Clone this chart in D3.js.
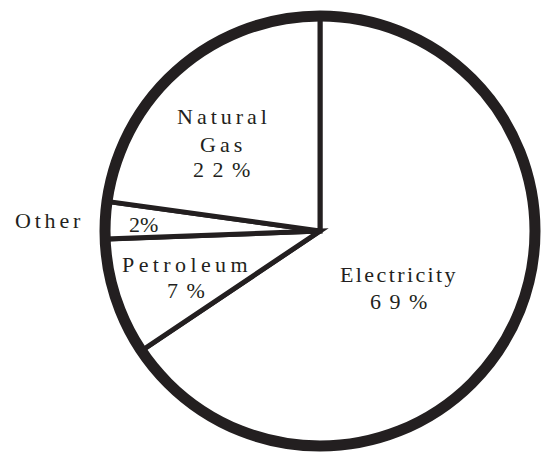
<!DOCTYPE html>
<html>
<head>
<meta charset="utf-8">
<script src="https://cdn.jsdelivr.net/npm/d3@7"></script>
<style>
  body { margin: 0; background: #fff; }
  text { font-family: "Liberation Serif", serif; fill: #231f20; }
</style>
</head>
<body>
<svg id="chart" width="543" height="453"></svg>
<script>
// ! Data (slice shares as drawn, printed labels)
var categories = ["Electricity", "Petroleum", "Other", "Natural Gas"];
var shares = [65.6, 8.8, 2.8, 22.8];
var pct_labels = ["6 9 %", "7 %", "2%", "2 2 %"];

// ! Parameters
var cx = 320, cy = 231, radius = 215;
var ink = "#231f20";

var svg = d3.select("#chart");
var g = svg.append("g").attr("transform", "translate(" + cx + "," + cy + ")");

var pie = d3.pie().sort(null).value(function(d) { return d; });
var arc = d3.arc().innerRadius(0).outerRadius(radius);

// slices
g.selectAll("path.slice")
  .data(pie(shares))
  .enter()
  .append("path")
  .attr("class", "slice")
  .attr("d", arc)
  .attr("fill", "#fff")
  .attr("stroke", ink)
  .attr("stroke-width", 5)
  .attr("stroke-linejoin", "miter");

// heavy outer ring
g.append("circle")
  .attr("r", radius)
  .attr("fill", "none")
  .attr("stroke", ink)
  .attr("stroke-width", 11);

// ! Labels - placement per category (left x, baseline)
var label_pos = {
  "Electricity": { name: [[340, 282]], pct: [370, 309], ls: 2.4 },
  "Petroleum":   { name: [[122, 272]], pct: [167, 298], ls: 4.4 },
  "Other":       { name: [[15, 228]],  pct: [129, 232], ls: 3.8 },
  "Natural Gas": { name: [[177, 124], [200, 152]], pct: [193, 177], ls: 4 }
};

categories.forEach(function(c, i) {
  var p = label_pos[c];
  var words = c === "Natural Gas" ? ["Natural", "Gas"] : [c];
  words.forEach(function(w, j) {
    svg.append("text")
      .attr("x", p.name[j][0])
      .attr("y", p.name[j][1])
      .style("font-size", "22px")
      .style("letter-spacing", p.ls + "px")
      .text(w);
  });
  svg.append("text")
    .attr("x", p.pct[0])
    .attr("y", p.pct[1])
    .style("font-size", "22px")
    .style("letter-spacing", c === "Other" ? "0px" : "1.5px")
    .text(pct_labels[i]);
});
</script>
</body>
</html>
